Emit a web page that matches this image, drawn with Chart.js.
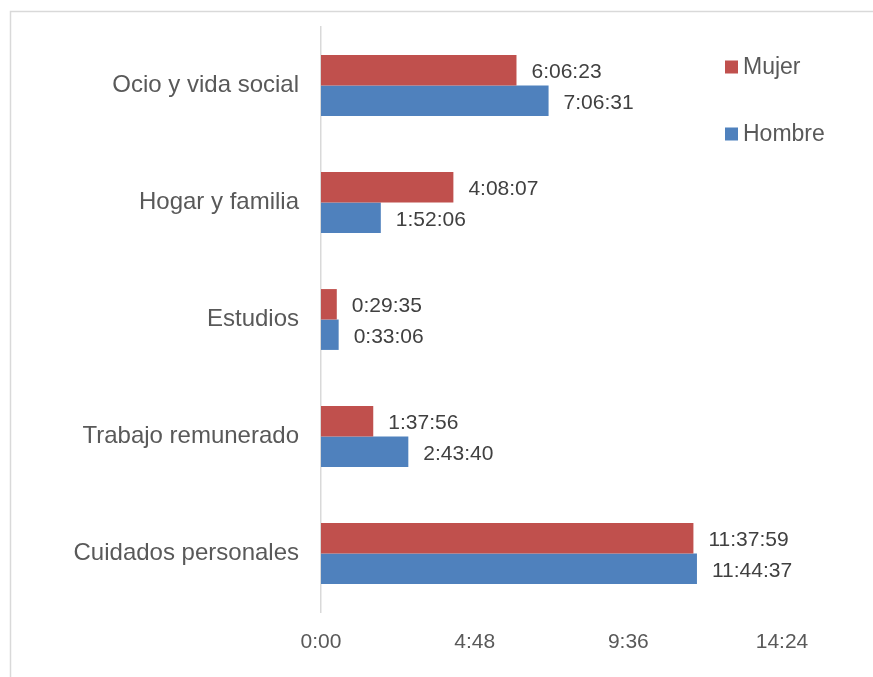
<!DOCTYPE html>
<html>
<head>
<meta charset="utf-8">
<script src="https://cdn.jsdelivr.net/npm/chart.js@4"></script>
<style>
  html, body { margin: 0; padding: 0; background: #fff; }
  #wrap { width: 873px; height: 677px; }
</style>
</head>
<body>
<div id="wrap"><canvas id="chart" width="873" height="677"></canvas></div>
<script>
const categories = ['Ocio y vida social', 'Hogar y familia', 'Estudios', 'Trabajo remunerado', 'Cuidados personales'];
const mujerTimes = ['6:06:23', '4:08:07', '0:29:35', '1:37:56', '11:37:59'];
const hombreTimes = ['7:06:31', '1:52:06', '0:33:06', '2:43:40', '11:44:37'];
const xTickSeconds = [0, 17280, 34560, 51840];

const toSeconds = (t) => {
  const [h, m, s] = t.split(':').map(Number);
  return h * 3600 + m * 60 + s;
};

const fmtTick = (sec) => {
  const h = Math.floor(sec / 3600);
  const m = Math.round((sec % 3600) / 60);
  return `${h}:${String(m).padStart(2, '0')}`;
};

const RED = '#C0504D';
const BLUE = '#4F81BD';

// gray frame round the chart, as in the spreadsheet export
const framePlugin = {
  id: 'frame',
  beforeDraw(chart) {
    const ctx = chart.ctx;
    ctx.save();
    ctx.strokeStyle = '#d9d9d9';
    ctx.lineWidth = 1.5;
    ctx.strokeRect(10.5, 11.5, 900, 700);
    ctx.restore();
  }
};

// time labels at the bar ends
const barLabels = {
  id: 'barLabels',
  afterDatasetsDraw(chart) {
    const ctx = chart.ctx;
    ctx.save();
    ctx.font = '21px "Liberation Sans", Arial, sans-serif';
    ctx.fillStyle = '#404040';
    ctx.textAlign = 'left';
    ctx.textBaseline = 'middle';
    chart.data.datasets.forEach((ds, di) => {
      chart.getDatasetMeta(di).data.forEach((bar, i) => {
        ctx.fillText(ds.timeLabels[i], bar.x + 15, bar.y + 2);
      });
    });
    ctx.restore();
  }
};

// legend drawn inside the plot, right side
const sideLegend = {
  id: 'sideLegend',
  afterDraw(chart) {
    const ctx = chart.ctx;
    const rows = [67, 134];
    ctx.save();
    ctx.font = '23px "Liberation Sans", Arial, sans-serif';
    ctx.textAlign = 'left';
    ctx.textBaseline = 'middle';
    chart.data.datasets.forEach((ds, i) => {
      ctx.fillStyle = ds.backgroundColor;
      ctx.fillRect(725, rows[i] - 6.5, 13, 13);
      ctx.fillStyle = '#595959';
      ctx.fillText(ds.label, 743, rows[i] + 1);
    });
    ctx.restore();
  }
};

new Chart(document.getElementById('chart'), {
  type: 'bar',
  data: {
    labels: categories,
    datasets: [
      {
        label: 'Mujer',
        data: mujerTimes.map(toSeconds),
        timeLabels: mujerTimes,
        backgroundColor: RED,
        categoryPercentage: 0.52,
        barPercentage: 1.0
      },
      {
        label: 'Hombre',
        data: hombreTimes.map(toSeconds),
        timeLabels: hombreTimes,
        backgroundColor: BLUE,
        categoryPercentage: 0.52,
        barPercentage: 1.0
      }
    ]
  },
  options: {
    indexAxis: 'y',
    responsive: false,
    animation: false,
    layout: { padding: { left: 0, top: 27, right: 91, bottom: 0 } },
    plugins: {
      legend: { display: false },
      tooltip: { enabled: false }
    },
    scales: {
      x: {
        min: 0,
        max: 51840,
        afterBuildTicks: (scale) => {
          scale.ticks = xTickSeconds.map((v) => ({ value: v }));
        },
        afterFit: (scale) => { scale.height = 65; },
        grid: { display: false, drawTicks: false },
        border: { display: false },
        ticks: {
          padding: 18,
          color: '#595959',
          font: { family: '"Liberation Sans Narrow", "Arial Narrow", "Liberation Sans", sans-serif', size: 21 },
          maxRotation: 0,
          callback: (v) => fmtTick(v)
        }
      },
      y: {
        afterFit: (scale) => {
          scale.width = 321;
          scale.paddingTop = 0;
          scale.paddingBottom = 0;
        },
        grid: { display: false, drawTicks: false },
        border: { display: true, color: '#d9d9d9', width: 1.5 },
        ticks: {
          padding: 22,
          color: '#595959',
          font: { family: '"Liberation Sans", Arial, sans-serif', size: 24 }
        }
      }
    }
  },
  plugins: [framePlugin, barLabels, sideLegend]
});
</script>
</body>
</html>
